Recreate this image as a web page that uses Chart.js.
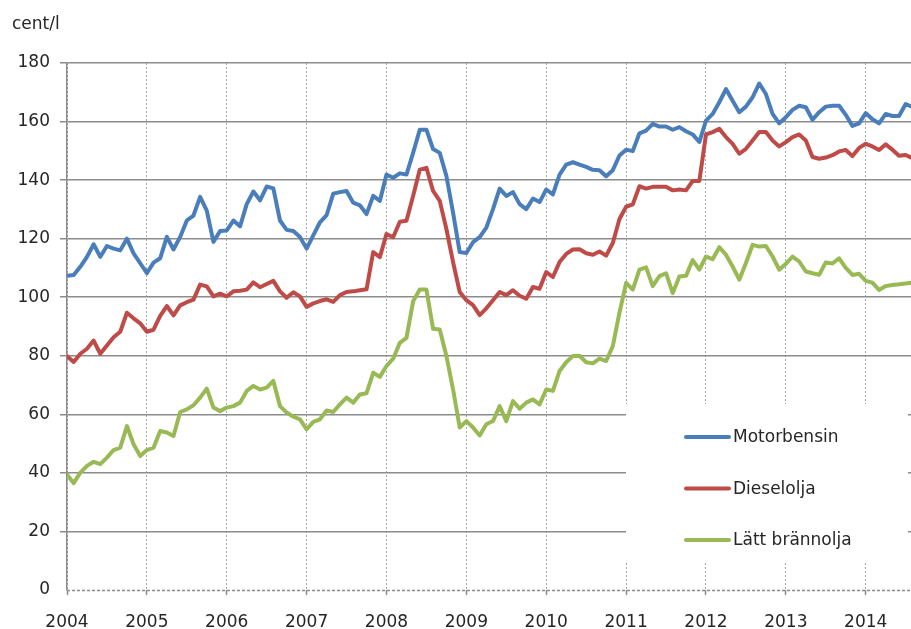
<!DOCTYPE html>
<html>
<head>
<meta charset="utf-8">
<script src="https://cdn.jsdelivr.net/npm/chart.js@4/dist/chart.umd.min.js"></script>
<style>
  html, body { margin: 0; padding: 0; background: #fff; }
  #wrap { width: 911px; height: 629px; }
</style>
</head>
<body>
<div id="wrap"><canvas id="chart" width="911" height="629"></canvas></div>
<script>
// månadsdata jan 2004 – aug 2014, cent/l
const years = [2004, 2005, 2006, 2007, 2008, 2009, 2010, 2011, 2012, 2013, 2014];
const yTicks = [0, 20, 40, 60, 80, 100, 120, 140, 160, 180];
const seriesNames = ['Motorbensin', 'Dieselolja', 'Lätt brännolja'];
const seriesColors = ['#4a7ebb', '#be4b48', '#98b954'];

const motorbensin = [
  107.3, 107.6, 110.4, 113.8, 118.1, 113.8, 117.5, 116.6, 116.0, 120.0, 115.0, 111.6,
  108.2, 111.8, 113.3, 120.6, 116.3, 120.6, 126.2, 127.9, 134.3, 129.6, 118.9, 122.6,
  122.8, 126.2, 124.2, 131.8, 136.1, 133.1, 137.8, 137.2, 126.2, 123.0, 122.6, 120.6,
  116.6, 121.1, 125.6, 128.0, 135.4, 135.9, 136.3, 132.3, 131.4, 128.4, 134.6, 132.9,
  141.9, 140.8, 142.3, 141.9, 149.3, 157.2, 157.2, 150.6, 149.3, 141.4, 128.9, 115.4,
  115.1, 118.8, 120.5, 123.8, 130.1, 137.1, 134.6, 135.9, 131.8, 130.1, 133.7, 132.5,
  136.8, 135.1, 141.9, 145.3, 146.1, 145.3, 144.5, 143.5, 143.4, 141.3, 143.4, 148.4,
  150.4, 149.9, 156.0, 156.9, 159.2, 158.3, 158.3, 157.2, 158.1, 156.7, 155.6, 153.0,
  160.3, 162.6, 166.6, 171.1, 167.1, 163.2, 165.1, 168.3, 173.0, 169.4, 162.6, 159.4,
  161.5, 164.0, 165.4, 164.9, 160.6, 163.2, 165.1, 165.4, 165.4, 162.3, 158.5, 159.4,
  162.9, 160.8, 159.4, 162.6, 161.9, 161.9, 166.0, 165.0
];
const dieselolja = [
  79.9, 77.9, 80.7, 82.4, 85.2, 80.7, 83.5, 86.3, 88.2, 94.7, 92.8, 91.1,
  88.2, 88.9, 93.6, 97.0, 93.8, 97.2, 98.3, 99.2, 104.3, 103.7, 100.3, 101.2,
  100.3, 102.0, 102.2, 102.6, 105.1, 103.4, 104.5, 105.6, 102.0, 99.8, 101.7, 100.3,
  96.7, 97.9, 98.7, 99.3, 98.4, 100.7, 101.8, 102.0, 102.4, 102.7, 115.4, 113.7,
  121.6, 120.5, 125.8, 126.1, 134.6, 143.6, 144.2, 136.3, 132.9, 123.3, 112.0, 101.8,
  99.0, 97.3, 93.9, 96.2, 99.0, 101.8, 100.7, 102.4, 100.5, 99.5, 103.5, 102.9,
  108.6, 106.9, 112.0, 114.8, 116.3, 116.4, 115.0, 114.5, 115.6, 114.2, 118.5, 126.7,
  130.9, 131.7, 137.9, 137.1, 137.7, 137.7, 137.7, 136.5, 136.8, 136.5, 139.7, 139.7,
  155.6, 156.4, 157.5, 154.7, 152.4, 149.0, 150.7, 153.5, 156.4, 156.4, 153.5, 151.5,
  153.0, 154.7, 155.6, 153.5, 147.9, 147.3, 147.7, 148.5, 149.8, 150.3, 148.2, 151.0,
  152.4, 151.5, 150.3, 152.2, 150.4, 148.3, 148.6, 147.5
];
const lattBrannolja = [
  39.5, 36.5, 40.1, 42.4, 43.8, 43.0, 45.2, 47.8, 48.6, 56.0, 49.8, 45.8,
  47.8, 48.6, 54.3, 53.8, 52.6, 60.8, 61.7, 63.1, 65.7, 68.8, 62.3, 61.1,
  62.3, 62.8, 64.0, 68.0, 69.7, 68.5, 69.1, 71.4, 62.8, 60.6, 59.2, 58.3,
  54.9, 57.4, 58.3, 61.3, 60.8, 63.4, 65.7, 64.0, 66.8, 67.2, 74.2, 72.8,
  76.5, 79.0, 84.4, 86.1, 98.6, 102.6, 102.6, 89.2, 89.0, 79.9, 68.5, 55.5,
  57.7, 55.5, 52.8, 56.6, 57.7, 62.8, 57.7, 64.5, 61.9, 64.0, 65.1, 63.4,
  68.5, 68.0, 74.8, 77.8, 79.9, 80.0, 77.8, 77.4, 79.0, 78.2, 83.3, 94.7,
  104.9, 102.6, 109.4, 110.2, 103.8, 107.2, 108.2, 101.4, 107.1, 107.3, 112.7, 109.4,
  113.9, 113.0, 117.1, 114.5, 110.5, 106.0, 111.7, 117.9, 117.3, 117.5, 113.9, 109.4,
  111.4, 113.9, 112.2, 108.8, 108.2, 107.7, 111.9, 111.5, 113.3, 110.0, 107.6, 108.0,
  105.6, 105.0, 102.5, 103.8, 104.2, 104.4, 104.7, 105.0
];

const FONT = 'DejaVu Sans';
const TEXT = '#262626';

// x = månadsindex från jan 2004
const toPoints = arr => arr.map((v, i) => ({ x: i, y: v }));

/* enhet uppe till vänster, streckad nollinje och legend i en vit ruta */
const extras = {
  id: 'extras',
  beforeDatasetsDraw(chart) {
    const { ctx, chartArea, scales } = chart;
    ctx.save();
    // legendrutan täcker rutnätet
    ctx.fillStyle = '#fff';
    ctx.fillRect(626, 404, 282, 159);
    // streckad nollinje
    const y0 = Math.round(scales.y.getPixelForValue(0)) + 0.5;
    ctx.strokeStyle = '#8c8c8c';
    ctx.lineWidth = 1.5;
    ctx.setLineDash([3, 2]);
    ctx.beginPath();
    ctx.moveTo(chartArea.left, y0);
    ctx.lineTo(chartArea.right, y0);
    ctx.stroke();
    ctx.setLineDash([]);
    // legend
    ctx.font = '17px "' + FONT + '"';
    ctx.textBaseline = 'middle';
    ctx.textAlign = 'left';
    chart.data.datasets.forEach((ds, i) => {
      const ly = 437 + i * 51.5;
      ctx.strokeStyle = ds.borderColor;
      ctx.lineWidth = 4;
      ctx.lineCap = 'round';
      ctx.beginPath();
      ctx.moveTo(686, ly);
      ctx.lineTo(729, ly);
      ctx.stroke();
      ctx.fillStyle = TEXT;
      ctx.fillText(ds.label, 733, ly + 1);
    });
    ctx.restore();
  },
  afterDraw(chart) {
    const { ctx } = chart;
    ctx.save();
    ctx.font = '17px "' + FONT + '"';
    ctx.fillStyle = TEXT;
    ctx.textBaseline = 'alphabetic';
    ctx.fillText('cent/l', 12, 29);
    ctx.restore();
  }
};

const allSeries = [motorbensin, dieselolja, lattBrannolja];

new Chart(document.getElementById('chart'), {
  type: 'line',
  data: {
    datasets: allSeries.map((arr, i) => ({
      label: seriesNames[i],
      data: toPoints(arr),
      borderColor: seriesColors[i],
      backgroundColor: seriesColors[i],
      borderWidth: 4,
      pointRadius: 0,
      tension: 0,
      borderJoinStyle: 'round',
      borderCapStyle: 'round',
      fill: false
    }))
  },
  options: {
    responsive: false,
    animation: false,
    devicePixelRatio: 1,
    layout: { padding: { top: 63, right: 0, left: 0, bottom: 0 } },
    font: { family: FONT },
    scales: {
      x: {
        type: 'linear',
        min: 0,
        max: 126.8,
        afterBuildTicks: s => { s.ticks = years.map(y => ({ value: (y - years[0]) * 12 })); },
        afterFit: s => { s.height = 39; },
        ticks: {
          autoSkip: false,
          maxRotation: 0,
          padding: 17,
          color: TEXT,
          font: { family: FONT, size: 17 },
          callback: v => String(years[0] + Math.round(v / 12))
        },
        grid: { color: '#a6a6a6', lineWidth: 1, tickLength: 5, tickColor: '#8c8c8c', tickWidth: 1.5 },
        border: { display: false, dash: [2, 2] }
      },
      y: {
        min: 0,
        max: 180,
        afterBuildTicks: s => { s.ticks = yTicks.map(v => ({ value: v })); },
        afterFit: s => { s.width = 67; },
        ticks: {
          padding: 10,
          color: TEXT,
          font: { family: FONT, size: 17 }
        },
        grid: {
          color: c => (c.tick && c.tick.value === 0 ? 'rgba(0,0,0,0)' : '#8c8c8c'),
          lineWidth: 1.5,
          tickLength: 7
        },
        border: { display: true, color: '#8c8c8c', width: 1.5 }
      }
    },
    plugins: {
      legend: { display: false },
      tooltip: { enabled: false }
    }
  },
  plugins: [extras]
});
</script>
</body>
</html>
